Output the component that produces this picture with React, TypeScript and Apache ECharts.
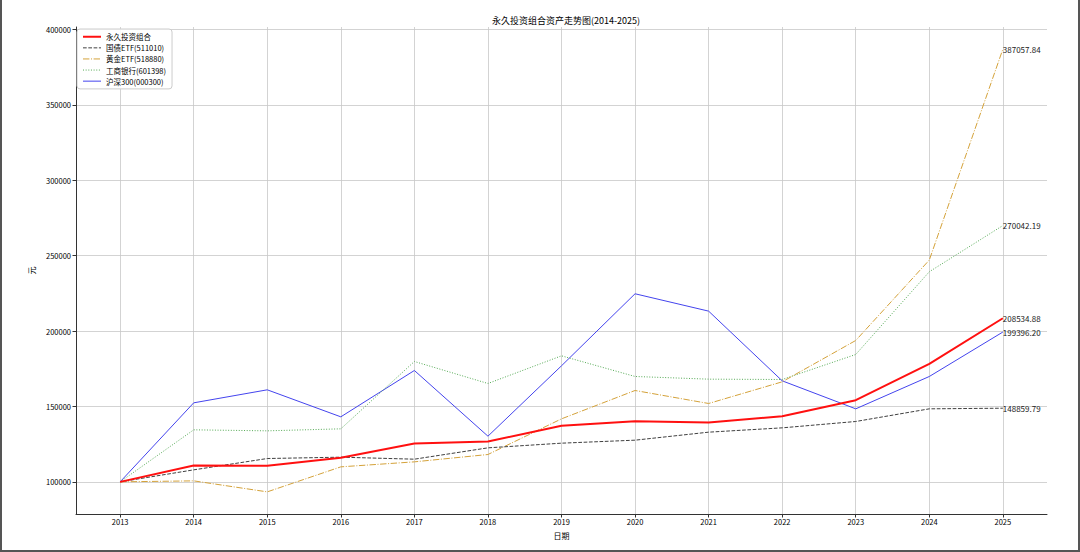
import React, { useEffect, useRef } from "react";
import * as echarts from "echarts";

const years = [2013, 2014, 2015, 2016, 2017, 2018, 2019, 2020, 2021, 2022, 2023, 2024, 2025];
const yTicks = [100000, 150000, 200000, 250000, 300000, 350000, 400000];

const portfolio = [100000, 110840, 110620, 115930, 125440, 126770, 137160, 140260, 139370, 143580, 154190, 178300, 208534.88];
const bondEtf = [100000, 107960, 115480, 116370, 115040, 122560, 125660, 127650, 132960, 135830, 140040, 148440, 148859.79];
const goldEtf = [100000, 100660, 93360, 109950, 113270, 118140, 141800, 160610, 151980, 166360, 193790, 247140, 387057.84];
const icbc = [100000, 134510, 133840, 135170, 179850, 165250, 183610, 169900, 168130, 167900, 184500, 239380, 270042.19];
const csi300 = [100000, 152420, 161050, 143130, 173880, 130300, 177000, 224770, 213250, 167020, 148440, 169900, 199396.2];

const names = ["永久投资组合", "国债ETF(511010)", "黄金ETF(518880)", "工商银行(601398)", "沪深300(000300)"];
const titleText = "永久投资组合资产走势图(2014-2025)";

const FONT = "'Noto Sans CJK SC', 'Noto Sans', sans-serif";

export default function App() {
  const ref = useRef<HTMLDivElement>(null);
  useEffect(() => {
    document.body.style.margin = "0";
    const chart = echarts.init(ref.current!, null, { renderer: "svg" });
    const allVals = [...portfolio, ...bondEtf, ...goldEtf, ...icbc, ...csi300];
    const dmin = Math.min(...allVals);
    const dmax = Math.max(...allVals);
    const pad = (dmax - dmin) * 0.05;
    const xpad = (years[years.length - 1] - years[0]) * 0.05;

    const mk = (name: string, vals: number[], color: string, width: number, type: any, z: number) => ({
      name,
      type: "line",
      data: vals.map((v, i) => [years[i], v]),
      symbol: "circle",
      showSymbol: false,
      z,
      lineStyle: { color, width, type },
      itemStyle: { color },
      emphasis: { disabled: true },
      endLabel: {
        show: true,
        distance: 0,
        formatter: (p: any) => Number(p.value[1]).toFixed(2),
        fontSize: 8,
        color: "#222",
        fontFamily: FONT,
      },
    });

    chart.setOption({
      animation: false,
      backgroundColor: "#fff",
      textStyle: { fontFamily: FONT },
      title: {
        text: titleText,
        left: 561,
        textAlign: "center",
        top: 11,
        textStyle: { fontSize: 9, fontWeight: "normal", color: "#000", fontFamily: FONT },
      },
      legend: {
        orient: "vertical",
        left: 77,
        top: 29,
        itemWidth: 18,
        itemHeight: 8,
        itemGap: 3.6,
        padding: [4, 6, 4, 5],
        borderColor: "#cccccc",
        borderWidth: 1,
        borderRadius: 3,
        backgroundColor: "rgba(255,255,255,0.85)",
        itemStyle: { opacity: 0 },
        lineStyle: { width: "inherit" },
        textStyle: { fontSize: 7.5, color: "#000", fontFamily: FONT },
        data: names,
      },
      grid: { left: 76, right: 33, top: 27, bottom: 38 },
      xAxis: {
        type: "value",
        min: years[0] - xpad,
        max: years[years.length - 1] + xpad,
        name: "日期",
        nameLocation: "middle",
        nameGap: 17,
        nameTextStyle: { fontSize: 8, color: "#000", fontFamily: FONT },
        axisLine: { show: true, lineStyle: { color: "#333", width: 1 } },
        axisTick: { show: true, inside: false, length: 3.5, customValues: years, lineStyle: { color: "#333" } },
        axisLabel: { customValues: years, fontSize: 7.5, color: "#000", margin: 4, formatter: (v: number) => String(v), fontFamily: FONT },
        splitLine: { show: true, lineStyle: { color: "#c8c8c8", width: 0.8 } },
      },
      yAxis: {
        type: "value",
        min: dmin - pad,
        max: dmax + pad,
        name: "元",
        nameLocation: "middle",
        nameRotate: 90,
        nameGap: 33,
        nameTextStyle: { fontSize: 8, color: "#000", fontFamily: FONT },
        axisLine: { show: true, lineStyle: { color: "#333", width: 1 } },
        axisTick: { show: true, inside: false, length: 3.5, customValues: yTicks, lineStyle: { color: "#333" } },
        axisLabel: { customValues: yTicks, fontSize: 7.5, color: "#000", margin: 5, formatter: (v: number) => String(v), fontFamily: FONT },
        splitLine: { show: true, lineStyle: { color: "#c8c8c8", width: 0.8 } },
      },
      series: [
        mk(names[0], portfolio, "#ff1010", 2, "solid", 5),
        mk(names[1], bondEtf, "#404040", 1, [3.7, 1.6], 4),
        mk(names[2], goldEtf, "#d4a23a", 1, [6.4, 1.6, 1, 1.6], 3),
        mk(names[3], icbc, "#55aa55", 1, [1, 1.65], 2),
        mk(names[4], csi300, "#4444ee", 1, "solid", 1),
      ],
    });
    return () => chart.dispose();
  }, []);
  return (
    <div style={{ position: "relative", width: 1080, height: 552 }}>
      <div ref={ref} style={{ width: 1080, height: 552 }} />
      <div
        style={{
          position: "absolute",
          left: 0,
          top: 0,
          width: 1080,
          height: 552,
          boxSizing: "border-box",
          borderLeft: "2px solid #555",
          borderRight: "2px solid #555",
          borderBottom: "2px solid #555",
          pointerEvents: "none",
        }}
      />
    </div>
  );
}
